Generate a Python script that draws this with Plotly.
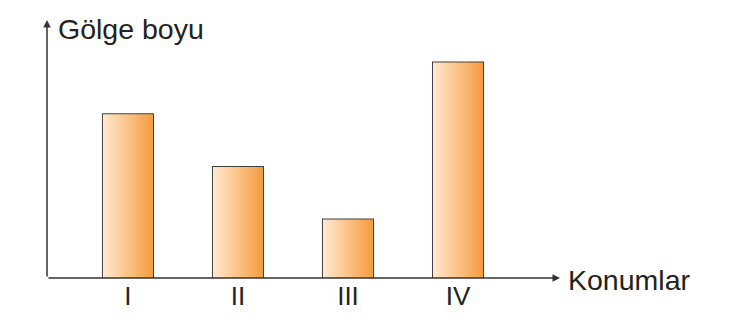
import plotly.graph_objects as go

categories = ["I", "II", "III", "IV"]
values = [3.13, 2.12, 1.12, 4.12]
y_title = "Gölge boyu"
x_title = "Konumlar"

bar_w = 0.455
x_min, x_max = -0.736, 3.927
y_max = 4.93

fig = go.Figure()

# gradient fills
for i, v in enumerate(values):
    xs = [i - bar_w / 2, i + bar_w / 2, i + bar_w / 2, i - bar_w / 2, i - bar_w / 2]
    ys = [0, 0, v, v, 0]
    fig.add_trace(go.Scatter(
        x=xs, y=ys, mode="lines", fill="toself",
        line=dict(width=0),
        fillgradient=dict(type="horizontal",
                          colorscale=[[0, "#FFE8D0"], [0.5, "#FBC386"], [1, "#F49B3F"]]),
        hoverinfo="skip", showlegend=False))

# bar outlines
fig.add_trace(go.Bar(
    x=list(range(len(categories))), y=values, width=bar_w,
    marker=dict(color="rgba(0,0,0,0)", line=dict(color="#404040", width=2)),
    showlegend=False))

ann = []
# y axis arrow
ann.append(dict(x=x_min, y=y_max, ax=x_min, ay=0, xref="x", yref="y", axref="x", ayref="y",
                text="", showarrow=True, arrowhead=2, arrowsize=1, arrowwidth=1.5,
                arrowcolor="#333333"))
# x axis arrow
ann.append(dict(x=x_max, y=0, ax=x_min, ay=0, xref="x", yref="y", axref="x", ayref="y",
                text="", showarrow=True, arrowhead=2, arrowsize=1, arrowwidth=1.5,
                arrowcolor="#333333"))
ann.append(dict(x=0.0175, y=0.965, xref="paper", yref="paper", text=y_title, showarrow=False,
                xanchor="left", yanchor="middle",
                font=dict(family="Liberation Sans, Arial", size=28.5, color="#222222")))
ann.append(dict(x=1.0117, y=-0.008, xref="paper", yref="paper", text=x_title, showarrow=False,
                xanchor="left", yanchor="middle",
                font=dict(family="Liberation Sans, Arial", size=28.5, color="#222222")))

fig.update_layout(
    width=751, height=331,
    margin=dict(l=47, r=191, t=20, b=53),
    paper_bgcolor="white", plot_bgcolor="white",
    annotations=ann,
    xaxis=dict(range=[x_min, x_max], tickvals=list(range(len(categories))), ticktext=categories,
               showgrid=False, zeroline=False, showline=False, ticks="",
               tickfont=dict(family="Liberation Sans, Arial", size=26, color="#222222")),
    yaxis=dict(range=[0, y_max], showgrid=False, zeroline=False, showline=False,
               showticklabels=False, ticks=""),
)

fig.write_html("out.html")
